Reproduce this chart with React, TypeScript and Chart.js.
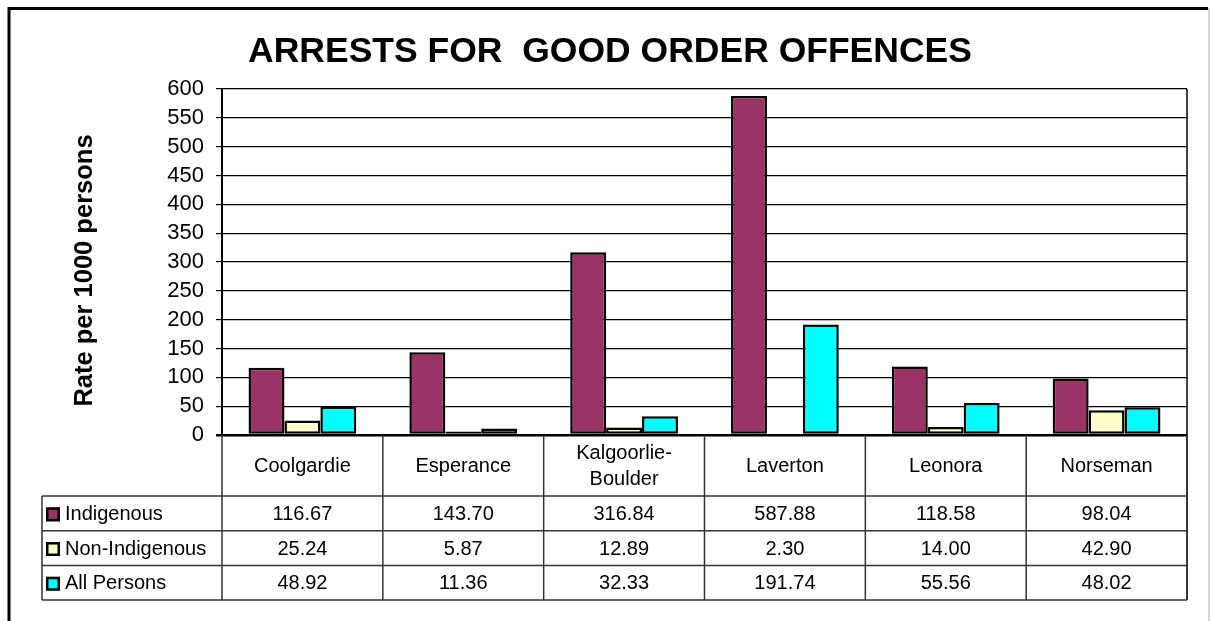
import { useEffect, useRef } from "react";
import { Chart, registerables } from "chart.js";

Chart.register(...registerables);

const TITLE = "ARRESTS FOR  GOOD ORDER OFFENCES";
const Y_TITLE = "Rate per 1000 persons";
const categories: string[][] = [
  ["Coolgardie"],
  ["Esperance"],
  ["Kalgoorlie-", "Boulder"],
  ["Laverton"],
  ["Leonora"],
  ["Norseman"],
];
const seriesNames = ["Indigenous", "Non-Indigenous", "All Persons"];
const indigenous = [116.67, 143.7, 316.84, 587.88, 118.58, 98.04];
const nonIndigenous = [25.24, 5.87, 12.89, 2.3, 14.0, 42.9];
const allPersons = [48.92, 11.36, 32.33, 191.74, 55.56, 48.02];
const seriesColors = ["#993366", "#FFFFCC", "#00FFFF"];
const yMin = 0;
const yMax = 600;
const yStep = 50;

const FONT = "Arial, 'Liberation Sans', sans-serif";
const W = 1210;
const H = 621;

const tablePlugin = {
  id: "dataTable",
  afterDraw(chart: any) {
    const ctx = chart.ctx as CanvasRenderingContext2D;
    const area = chart.chartArea;
    const xs = chart.scales.x;
    const n = categories.length;
    const step = xs.getPixelForValue(1) - xs.getPixelForValue(0);
    const left = xs.getPixelForValue(0) - step / 2;
    const right = xs.getPixelForValue(n - 1) + step / 2;
    const headerBottom = area.bottom + 61;
    const rowH = 34.7;
    const rowTops = [headerBottom, headerBottom + rowH, headerBottom + 2 * rowH, headerBottom + 3 * rowH];
    const legendLeft = 42;
    const seriesData = [indigenous, nonIndigenous, allPersons];

    ctx.save();
    // Frame
    ctx.strokeStyle = "#000";
    ctx.lineWidth = 3;
    ctx.beginPath();
    ctx.moveTo(9, H);
    ctx.lineTo(9, 8.5);
    ctx.lineTo(1208, 8.5);
    ctx.stroke();
    ctx.strokeStyle = "#c8c8c8";
    ctx.lineWidth = 1.5;
    ctx.beginPath();
    ctx.moveTo(1209, 8);
    ctx.lineTo(1209, H);
    ctx.stroke();

    // Title
    ctx.fillStyle = "#000";
    ctx.font = `bold 35.5px ${FONT}`;
    ctx.textAlign = "center";
    ctx.textBaseline = "alphabetic";
    ctx.fillText(TITLE, 610, 62);

    // Y axis title
    ctx.save();
    ctx.translate(92, 270.5);
    ctx.rotate(-Math.PI / 2);
    ctx.font = `bold 25.5px ${FONT}`;
    ctx.fillText(Y_TITLE, 0, 0);
    ctx.restore();

    // Plot right border
    ctx.strokeStyle = "#000";
    ctx.lineWidth = 1.5;
    ctx.beginPath();
    ctx.moveTo(right, area.top);
    ctx.lineTo(right, rowTops[3]);
    ctx.stroke();

    // Table lines
    ctx.strokeStyle = "#333";
    ctx.lineWidth = 1.5;
    ctx.beginPath();
    for (let i = 0; i <= n; i++) {
      const x = left + i * step;
      ctx.moveTo(x, area.bottom);
      ctx.lineTo(x, rowTops[3]);
    }
    ctx.moveTo(legendLeft, rowTops[0]);
    ctx.lineTo(legendLeft, rowTops[3]);
    for (const y of rowTops) {
      ctx.moveTo(legendLeft, y);
      ctx.lineTo(right, y);
    }
    ctx.stroke();

    // Category labels
    ctx.fillStyle = "#000";
    ctx.font = `20px ${FONT}`;
    ctx.textAlign = "center";
    ctx.textBaseline = "middle";
    const headerMid = (area.bottom + headerBottom) / 2 + 1;
    categories.forEach((lines, i) => {
      const cx = xs.getPixelForValue(i);
      const lh = 26;
      lines.forEach((t, j) => {
        ctx.fillText(t, cx, headerMid + (j - (lines.length - 1) / 2) * lh);
      });
    });

    // Rows
    seriesData.forEach((vals, r) => {
      const cy = rowTops[r] + rowH / 2 + 1;
      ctx.textAlign = "center";
      vals.forEach((v, i) => {
        ctx.fillText(v.toFixed(2), xs.getPixelForValue(i), cy);
      });
      // legend key
      ctx.fillStyle = seriesColors[r];
      ctx.fillRect(46, cy - 7, 14, 14);
      ctx.strokeStyle = "#000";
      ctx.lineWidth = 2.5;
      ctx.strokeRect(47.25, cy - 5.75, 11.5, 11.5);
      ctx.fillStyle = "#000";
      ctx.textAlign = "left";
      ctx.fillText(seriesNames[r], 65, cy);
    });
    ctx.restore();
  },
};

export default function App() {
  const ref = useRef<HTMLCanvasElement | null>(null);
  useEffect(() => {
    if (!ref.current) return;
    const chart = new Chart(ref.current, {
      type: "bar",
      data: {
        labels: categories.map((c) => c.join(" ")),
        datasets: [indigenous, nonIndigenous, allPersons].map((d, i) => ({
          label: seriesNames[i],
          data: d,
          backgroundColor: seriesColors[i],
          borderColor: "#000",
          borderWidth: 2.5,
          borderSkipped: false,
          categoryPercentage: 0.67,
          barPercentage: 1,
        })),
      },
      options: {
        responsive: false,
        animation: false,
        devicePixelRatio: 1,
        layout: { padding: { left: 0, top: 89, right: W - 1187, bottom: H - 435 } },
        plugins: { legend: { display: false }, title: { display: false }, tooltip: { enabled: false } },
        scales: {
          x: { display: false },
          y: {
            min: yMin,
            max: yMax,
            afterFit: (s: any) => {
              s.width = 222;
            },
            ticks: {
              stepSize: yStep,
              autoSkip: false,
              color: "#000",
              padding: 12,
              font: { family: FONT, size: 22 },
            },
            grid: {
              color: "#000",
              lineWidth: (c: any) => (c.tick && c.tick.value === 0 ? 2.5 : 1.2),
              tickLength: 6,
              drawTicks: true,
            },
            border: { display: true, color: "#000", width: 2 },
          },
        },
      },
      plugins: [tablePlugin],
    });
    return () => chart.destroy();
  }, []);
  return (
    <div style={{ position: "fixed", left: 0, top: 0, width: W, height: H, background: "#fff" }}>
      <canvas ref={ref} width={W} height={H} style={{ display: "block" }} />
    </div>
  );
}
